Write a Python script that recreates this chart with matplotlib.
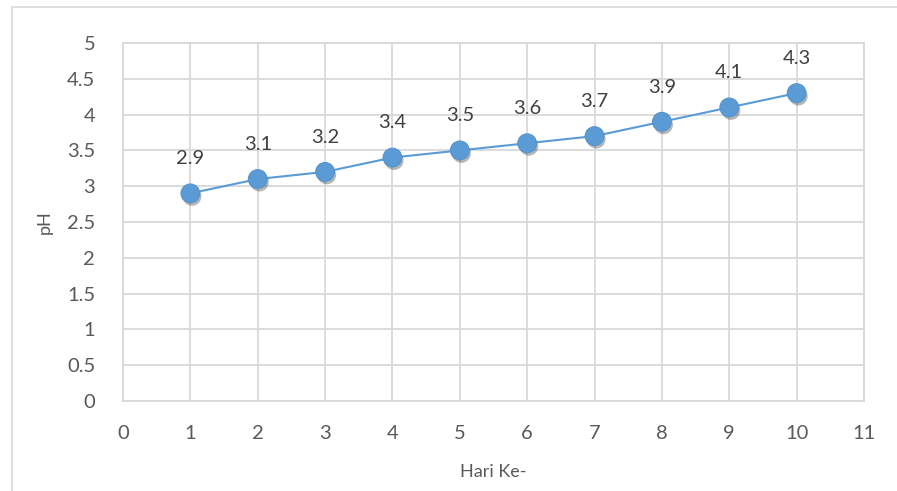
import matplotlib
matplotlib.use("Agg")
import matplotlib.pyplot as plt
import matplotlib.patheffects as pe
from matplotlib.patches import Rectangle

# pH readings per day
days = [1, 2, 3, 4, 5, 6, 7, 8, 9, 10]
ph_values = [2.9, 3.1, 3.2, 3.4, 3.5, 3.6, 3.7, 3.9, 4.1, 4.3]
x_ticks = list(range(0, 12))
y_ticks = [0, 0.5, 1, 1.5, 2, 2.5, 3, 3.5, 4, 4.5, 5]

plt.rcParams['font.family'] = ['Lato', 'DejaVu Sans']
text_color = '#595959'
grid_color = '#D9D9D9'
blue = '#5B9BD5'

fig = plt.figure(figsize=(8.97, 4.91), dpi=100)
fig.patch.set_facecolor('white')

# outer chart frame
fig.patches.append(Rectangle((12 / 897, -0.01), 1.0, 1 - 7 / 491 + 0.01,
                             transform=fig.transFigure, fill=False,
                             edgecolor=grid_color, linewidth=1.2))

ax = fig.add_axes([123 / 897, 1 - 401 / 491, (864 - 123) / 897, (401 - 43) / 491])
ax.set_xlim(0, 11)
ax.set_ylim(0, 5)
ax.set_xticks(x_ticks)
ax.set_yticks(y_ticks)
ax.set_yticklabels([f'{v:g}' for v in y_ticks])
ax.grid(True, color=grid_color, linewidth=1.3)
ax.set_axisbelow(True)
for s in ax.spines.values():
    s.set_color(grid_color)
    s.set_linewidth(1.3)
ax.tick_params(length=0, labelsize=14.5, colors=text_color)
ax.tick_params(axis='x', pad=17)
ax.tick_params(axis='y', pad=20)

shadow = [pe.SimplePatchShadow(offset=(1.2, -2.2), shadow_rgbFace='#303030', alpha=0.35),
          pe.Normal()]
ax.plot(days, ph_values, color=blue, linewidth=1.5, zorder=3)
ax.plot(days, ph_values, linestyle='none', marker='o', markersize=13.5,
        markerfacecolor=blue, markeredgecolor='#5593CC', markeredgewidth=0.8,
        zorder=4, path_effects=shadow)

for x, y in zip(days, ph_values):
    ax.annotate(f'{y:g}', (x, y), xytext=(0, 25), textcoords='offset points',
                ha='center', va='center', fontsize=14.5, color='#404040')

ax.set_xlabel('Hari Ke-', fontsize=13, color=text_color, labelpad=16)
ax.set_ylabel('pH', fontsize=13, color=text_color, labelpad=10)

fig.savefig('out.png', dpi=100, facecolor='white')
